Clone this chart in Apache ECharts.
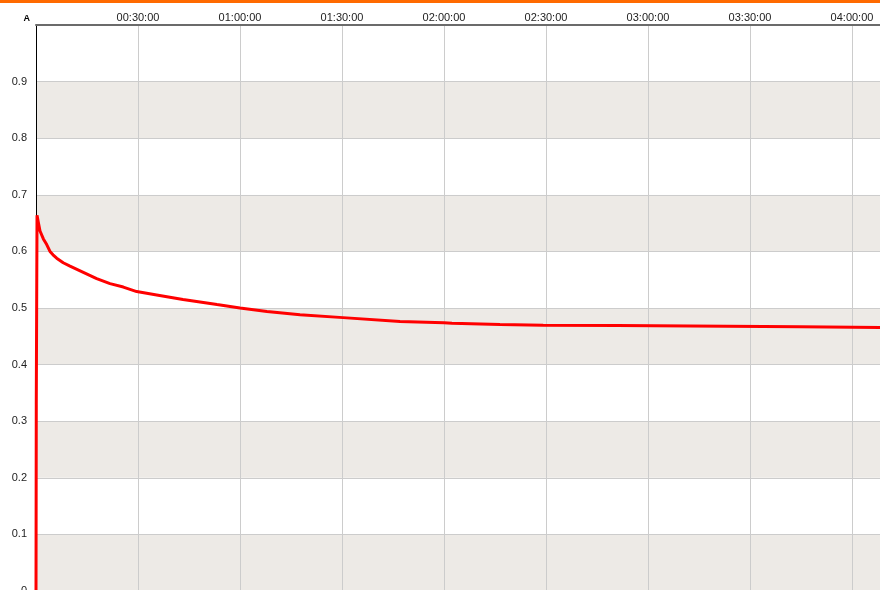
<!DOCTYPE html>
<html>
<head>
<meta charset="utf-8">
<script src="https://cdn.jsdelivr.net/npm/echarts@6/dist/echarts.min.js"></script>
<style>
    html, body { margin: 0; padding: 0; background: #fff; }
    #bar { position: absolute; left: 0; top: 0; width: 880px; height: 3px; background: #ff6a00; }
    #chart { position: absolute; left: 0; top: 0; width: 880px; height: 590px; }
</style>
</head>
<body>
<div id="chart"></div>
<div id="bar"></div>
<script>
// elapsed time in seconds, current in A
var times = [0, 5, 18, 40, 71, 130, 189, 247, 300, 365, 480, 600, 835, 1071, 1306, 1541, 1777, 2130, 2594, 3194, 3600, 4076, 4659, 5418, 6424, 7200, 7340, 8188, 8950, 10253, 10260, 13482, 13490, 14894];
var current = [0, 0.33, 0.664, 0.652, 0.636, 0.622, 0.612, 0.600, 0.594, 0.588, 0.580, 0.574, 0.563, 0.552, 0.543, 0.537, 0.529, 0.523, 0.515, 0.506, 0.500, 0.494, 0.488, 0.483, 0.476, 0.474, 0.473, 0.471, 0.4695, 0.469, 0.4668, 0.4668, 0.4655, 0.4655];

var timeMax = 14894;
var yTicks = { min: 0, max: 1, step: 0.1 };

function pad(n) {
    return (n < 10 ? '0' : '') + n;
}

function fmtTime(sec) {
    var h = Math.floor(sec / 3600);
    var m = Math.floor((sec % 3600) / 60);
    var s = Math.floor(sec % 60);
    return pad(h) + ':' + pad(m) + ':' + pad(s);
}

var points = times.map(function (t, i) { return [t, current[i]]; });

var chart = echarts.init(document.getElementById('chart'));

chart.setOption({
    animation: false,
    backgroundColor: '#fff',
    grid: { left: 36, right: 0, top: 25, bottom: -1, containLabel: false, outerBoundsMode: 'none' },
    textStyle: { fontFamily: 'Liberation Sans, Arial, sans-serif' },
    xAxis: {
        type: 'value',
        position: 'top',
        min: 0,
        max: timeMax,
        interval: 1800,
        axisLine: { show: true, onZero: false, lineStyle: { color: '#6b6b6b', width: 2 } },
        axisTick: { show: false },
        axisLabel: {
            margin: 2,
            fontSize: 11,
            color: '#222',
            showMinLabel: false,
            showMaxLabel: false,
            formatter: fmtTime
        },
        splitLine: { show: true, lineStyle: { color: '#cccccc', width: 1 } }
    },
    yAxis: {
        type: 'value',
        min: yTicks.min,
        max: yTicks.max,
        interval: yTicks.step,
        name: 'A',
        nameLocation: 'end',
        nameGap: 2,
        nameTextStyle: {
            fontSize: 9,
            fontWeight: 'bold',
            color: '#000',
            align: 'right',
            padding: [0, 6, 0, 0]
        },
        axisLine: { show: true, onZero: false, lineStyle: { color: '#000', width: 1 } },
        axisTick: { show: false },
        axisLabel: {
            margin: 9,
            fontSize: 11,
            color: '#222',
            showMaxLabel: false
        },
        splitLine: { show: true, lineStyle: { color: '#cccccc', width: 1 } },
        splitArea: { show: true, areaStyle: { color: ['#edeae6', '#ffffff'] } }
    },
    series: [{
        type: 'line',
        data: points,
        showSymbol: false,
        clip: false,
        lineStyle: { color: '#ff0000', width: 3 },
        z: 5
    }]
});
</script>
</body>
</html>
